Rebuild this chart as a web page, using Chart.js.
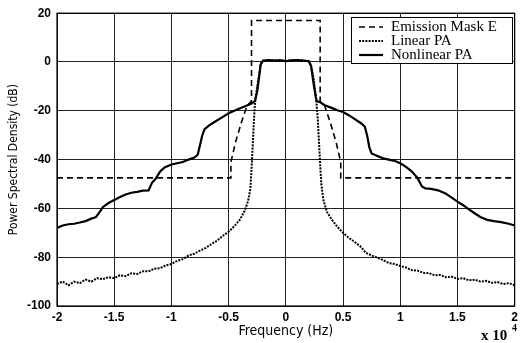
<!DOCTYPE html>
<html>
<head>
<meta charset="utf-8">
<script src="https://cdn.jsdelivr.net/npm/chart.js@4"></script>
<style>
  html, body { margin: 0; padding: 0; background: #fff; }
  #wrap { width: 522px; height: 343px; }
</style>
</head>
<body>
<div id="wrap"><canvas id="psdChart" width="522" height="343"></canvas></div>
<script>
// frequencies are in units of 1e4 Hz (axis shows "x 10^4")
const maskFreq = [-2, -0.48, -0.48, -0.44, -0.39, -0.34, -0.3, -0.3, 0.3, 0.3, 0.34, 0.39, 0.44, 0.48, 0.48, 2];
const maskDb   = [-47.5, -47.5, -41, -33, -25, -18, -16, 17, 17, -16, -18, -25, -33, -41, -47.5, -47.5];

const linearFreq = [-2, -1.95, -1.9, -1.85, -1.8, -1.75, -1.7, -1.65, -1.6, -1.55, -1.5, -1.45, -1.4, -1.35, -1.3,
  -1.25, -1.2, -1.15, -1.1, -1.05, -1, -0.95, -0.9, -0.85, -0.8, -0.75, -0.7, -0.65, -0.6, -0.55, -0.5, -0.45,
  -0.4, -0.36, -0.33, -0.31, -0.3, -0.29, -0.28, -0.27, -0.25, -0.23, -0.22, -0.2, -0.15, -0.1, -0.05, 0,
  0.05, 0.1, 0.15, 0.2, 0.22, 0.24, 0.26, 0.27, 0.28, 0.29, 0.3, 0.31, 0.33, 0.36, 0.4, 0.45, 0.5, 0.55, 0.6,
  0.65, 0.7, 0.75, 0.8, 0.85, 0.9, 0.95, 1, 1.05, 1.1, 1.15, 1.2, 1.25, 1.3, 1.35, 1.4, 1.45, 1.5, 1.55, 1.6,
  1.65, 1.7, 1.75, 1.8, 1.85, 1.9, 1.95, 2];
const linearDb = [-91, -90, -91.5, -90, -90.6, -89.2, -90, -88.6, -89, -88.2, -88.6, -87.4, -87.8, -86.6, -86.9,
  -85.8, -85.8, -84.7, -84.5, -83.4, -82.8, -81.5, -80.8, -79.3, -78.6, -77.3, -76.2, -74.6, -73.2, -71.2, -69.6, -67.3,
  -64.5, -61, -57, -52, -44, -35, -25, -17, -10, -4, -1, 0.5, 0.8, 0.6, 0.7, 0.4,
  0.7, 0.8, 0.6, 0.3, -1.5, -6, -13, -18, -24, -33, -42, -50, -57, -61.5, -64.5, -67.5, -70, -72, -73.7,
  -75.5, -78.2, -79.3, -80.2, -81.2, -82.4, -82.8, -83.6, -84.2, -85.3, -85.5, -86.4, -86.5, -87.4, -87.3, -88.2, -88, -88.9, -88.6, -89.5,
  -89.2, -90, -89.7, -90.5, -90.2, -91, -90.6, -91.5];

const nonlinFreq = [-2, -1.95, -1.9, -1.85, -1.8, -1.75, -1.7, -1.66, -1.62, -1.6, -1.55, -1.5, -1.45, -1.4, -1.35,
  -1.3, -1.25, -1.2, -1.17, -1.14, -1.1, -1.06, -1, -0.95, -0.9, -0.85, -0.8, -0.77, -0.75, -0.73, -0.71, -0.67,
  -0.62, -0.55, -0.5, -0.45, -0.4, -0.35, -0.3, -0.27, -0.25, -0.23, -0.22, -0.2, -0.15, -0.1, -0.05, 0,
  0.05, 0.1, 0.15, 0.2, 0.22, 0.24, 0.26, 0.27, 0.3, 0.34, 0.4, 0.45, 0.5, 0.55, 0.6, 0.66, 0.69, 0.71, 0.73,
  0.75, 0.8, 0.85, 0.9, 0.95, 1, 1.05, 1.1, 1.15, 1.19, 1.22, 1.27, 1.33, 1.4, 1.45, 1.5, 1.55, 1.6, 1.65, 1.7,
  1.76, 1.82, 1.88, 1.94, 2];
const nonlinDb = [-68, -67, -66.5, -66.3, -65.8, -65.2, -64.2, -63.6, -61, -59.5, -57.8, -56.6, -55.3, -54.3, -53.6,
  -53.2, -52.7, -52.6, -49.5, -48, -45, -43.2, -42, -41.5, -41, -40, -39.2, -38, -34, -30, -27.5, -26,
  -24.5, -22.5, -21, -20, -19, -18, -17, -16, -12, -5, -1, 0.5, 0.8, 0.6, 0.7, 0.4,
  0.7, 0.8, 0.6, 0.3, -1.5, -8, -14, -16, -16.5, -17.7, -18.8, -19.8, -20.5, -21.8, -23.3, -25.2, -26.5, -30, -35,
  -37.5, -38.5, -39.5, -40, -40.5, -41.5, -43, -44.8, -47.5, -51, -51.8, -52, -52.6, -54, -55.6, -57.2, -58.7, -60.4, -62, -63.5,
  -64.7, -65.2, -65.6, -66.2, -67];

const xTicks = [-2, -1.5, -1, -0.5, 0, 0.5, 1, 1.5, 2];
const yTicks = [-100, -80, -60, -40, -20, 0, 20];
const seriesNames = ["Emission Mask E", "Linear PA", "Nonlinear PA"];

const toPoints = (xs, ys) => xs.map((x, i) => ({ x: x, y: ys[i] }));

const lineStyles = [
  { dash: [6, 4], width: 1.6 },
  { dash: [2, 1.2], width: 2 },
  { dash: [], width: 2.2 },
];

const narrowFont = "'DejaVu Sans Condensed', 'Liberation Sans Narrow', 'Arial Narrow', sans-serif";

const framePlugin = {
  id: "frameAndLegend",
  afterDraw(chart) {
    const ctx = chart.ctx;
    const a = chart.chartArea;
    ctx.save();
    ctx.strokeStyle = "#000";
    ctx.lineWidth = 1.2;
    ctx.setLineDash([]);
    ctx.strokeRect(a.left, a.top, a.right - a.left, a.bottom - a.top);

    // legend box, top right inside the plot
    const bx = 351, by = 17, bw = 161, bh = 46;
    ctx.fillStyle = "#fff";
    ctx.fillRect(bx, by, bw, bh);
    ctx.lineWidth = 1;
    ctx.strokeRect(bx + 0.5, by + 0.5, bw, bh);
    ctx.font = "15px 'Liberation Serif', 'Times New Roman', serif";
    ctx.textBaseline = "middle";
    ctx.fillStyle = "#000";
    seriesNames.forEach((name, i) => {
      const y = by + 10 + i * 14;
      ctx.beginPath();
      ctx.setLineDash(lineStyles[i].dash);
      ctx.lineWidth = lineStyles[i].width;
      ctx.moveTo(359, y);
      ctx.lineTo(383, y);
      ctx.stroke();
      ctx.setLineDash([]);
      ctx.fillText(name, 391, y);
    });

    // exponent note under the axis
    ctx.font = "bold 15px 'Liberation Serif', serif";
    ctx.fillText("x 10", 481, 336);
    ctx.font = "bold 10px 'Liberation Serif', serif";
    ctx.fillText("4", 512, 328);
    ctx.restore();
  },
};

const ctx = document.getElementById("psdChart").getContext("2d");

new Chart(ctx, {
  type: "line",
  data: {
    datasets: [
      {
        label: seriesNames[2],
        data: toPoints(nonlinFreq, nonlinDb),
        borderColor: "#000",
        borderWidth: lineStyles[2].width,
        borderDash: lineStyles[2].dash,
      },
      {
        label: seriesNames[1],
        data: toPoints(linearFreq, linearDb),
        borderColor: "#000",
        borderWidth: lineStyles[1].width,
        borderDash: lineStyles[1].dash,
      },
      {
        label: seriesNames[0],
        data: toPoints(maskFreq, maskDb),
        borderColor: "#000",
        borderWidth: lineStyles[0].width,
        borderDash: lineStyles[0].dash,
      },
    ],
  },
  options: {
    responsive: false,
    animation: false,
    events: [],
    elements: { point: { radius: 0 }, line: { tension: 0, fill: false } },
    layout: { padding: { top: 13, right: 5, left: 0, bottom: 0 } },
    plugins: {
      legend: { display: false },
      tooltip: { enabled: false },
    },
    scales: {
      x: {
        type: "linear",
        min: -2,
        max: 2,
        afterBuildTicks: (s) => { s.ticks = xTicks.map((v) => ({ value: v })); },
        afterFit: (s) => { s.height = 37; },
        ticks: {
          color: "#000",
          padding: 4,
          font: { family: "'Liberation Sans', Arial, sans-serif", size: 12, weight: "bold" },
          callback: (v) => String(v),
        },
        grid: { color: "#222", lineWidth: 1, drawTicks: false },
        border: { display: false },
        title: {
          display: true,
          text: "Frequency (Hz)",
          color: "#000",
          font: { family: narrowFont, size: 14 },
          padding: { top: 0, bottom: 3 },
        },
      },
      y: {
        type: "linear",
        min: -100,
        max: 20,
        afterBuildTicks: (s) => { s.ticks = yTicks.map((v) => ({ value: v })); },
        afterFit: (s) => { s.width = 57; },
        ticks: {
          color: "#000",
          padding: 6,
          font: { family: "'Liberation Sans', Arial, sans-serif", size: 12, weight: "bold" },
        },
        grid: { color: "#222", lineWidth: 1, drawTicks: false },
        border: { display: false },
        title: {
          display: true,
          text: "Power Spectral Density (dB)",
          color: "#000",
          font: { family: narrowFont, size: 12 },
          padding: { top: 7, bottom: 0 },
        },
      },
    },
  },
  plugins: [framePlugin],
});
</script>
</body>
</html>
